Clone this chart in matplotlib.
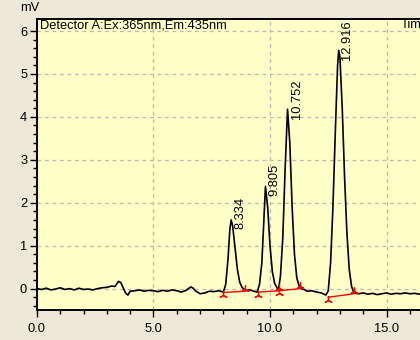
import matplotlib.pyplot as plt
import numpy as np

plt.rcParams['font.family'] = ['Liberation Sans', 'DejaVu Sans']

# chromatogram trace: time (min) and signal (mV)
time_min = [
    0.0, 0.2, 0.4, 0.6, 0.8, 1.0, 1.2, 1.4, 1.6, 1.8, 2.0, 2.2, 2.4, 2.6, 2.8,
    3.0, 3.2, 3.35, 3.5, 3.6, 3.7, 3.8, 3.9, 4.0, 4.2, 4.4, 4.6, 4.8, 5.0, 5.2,
    5.4, 5.6, 5.8, 6.0, 6.2, 6.4, 6.6, 6.7, 6.8, 7.0, 7.2, 7.4, 7.6, 7.8, 8.0,
    8.1, 8.2, 8.28, 8.334, 8.4, 8.5, 8.6, 8.7, 8.8, 8.9, 9.0, 9.1, 9.2, 9.3, 9.45,
    9.55, 9.65, 9.72, 9.805, 9.9, 10.0, 10.1, 10.2, 10.3, 10.36,
    10.45, 10.55, 10.65, 10.752, 10.85, 10.95, 11.05, 11.15, 11.25, 11.35,
    11.5, 11.6, 11.8, 12.0, 12.2, 12.4, 12.5, 12.6, 12.7, 12.8, 12.9, 12.95,
    13.0, 13.1, 13.2, 13.3, 13.4, 13.5, 13.6, 13.8, 14.0, 14.2, 14.4, 14.6,
    14.8, 15.0, 15.2, 15.4, 15.6, 15.8, 16.0, 16.2, 16.4, 16.6, 16.8, 17.0,
]
signal_mv = [
    0.0, -0.02, 0.01, -0.03, -0.01, 0.02, -0.02, 0.0, -0.03, 0.01, -0.02, -0.01,
    -0.03, 0.0, 0.02, 0.03, 0.06, 0.05, 0.17, 0.14, 0.02, -0.1, -0.15, -0.06,
    -0.05, -0.03, -0.06, -0.04, -0.05, -0.07, -0.04, -0.06, -0.03, -0.05, -0.08,
    -0.04, 0.04, 0.01, -0.05, -0.12, -0.1, -0.06, -0.07, -0.05, -0.08,
    0.1, 0.7, 1.4, 1.6, 1.45, 0.95, 0.45, 0.15, 0.03, -0.02, -0.05, -0.03, -0.04,
    -0.06, -0.08,
    0.1, 0.6, 1.4, 2.38, 1.9, 1.0, 0.4, 0.12, 0.02, -0.04,
    0.3, 1.2, 2.8, 4.18, 3.4, 1.9, 0.8, 0.25, 0.06, 0.0,
    -0.03, -0.06, -0.05, -0.08, -0.1, -0.15, -0.05, 0.6, 1.9, 3.6, 5.2, 5.55,
    5.4, 4.2, 2.6, 1.3, 0.45, 0.05, -0.1, -0.12, -0.1, -0.13, -0.11, -0.14,
    -0.12, -0.1, -0.13, -0.11, -0.12, -0.1, -0.12, -0.11, -0.13, -0.1, -0.12, -0.11,
]

# detected peaks
peak_rt = [8.334, 9.805, 10.752, 12.916]
peak_height = [1.6, 2.38, 4.18, 5.55]
peak_labels = ['8.334', '9.805', '10.752', '12.916']

# integration baselines: (start t, start mV, end t, end mV)
base_start_t = [8.0, 9.5, 10.38, 12.5]
base_start_v = [-0.09, -0.08, -0.05, -0.2]
base_end_t = [8.93, 10.38, 11.3, 13.6]
base_end_v = [-0.06, -0.05, 0.0, -0.12]

fs = 9.3

fig = plt.figure(figsize=(4.2, 3.4), dpi=100, facecolor='#ECE9D8')
ax = fig.add_axes([0.088, 0.088, 0.971, 0.856])
ax.set_facecolor('#FFFFC8')

ax.plot(time_min, signal_mv, color='black', lw=1.2, zorder=3)

for st, sv, et, ev in zip(base_start_t, base_start_v, base_end_t, base_end_v):
    ax.plot([st, et], [sv, ev], color='red', lw=1.0, zorder=4)
    ax.plot(st, sv - 0.06, marker=(3, 2, 0), color='red', ms=6, mew=0.9, zorder=5)
    ax.plot(et, ev + 0.06, marker=(3, 2, 0), color='red', ms=6, mew=0.9, zorder=5)

for rt, h, lab in zip(peak_rt, peak_height, peak_labels):
    ax.text(rt + 0.4, h - 0.22, lab, rotation=90, ha='center', va='bottom',
            fontsize=fs, zorder=6)

ax.text(0.12, 6.27, 'Detector A:Ex:365nm,Em:435nm', fontsize=fs, va='top', ha='left')
ax.text(15.6, 6.27, 'Tim', fontsize=fs, va='top', ha='left')

ax.set_xlim(0, 17.5)
ax.set_ylim(-0.5, 6.28)
ax.set_xticks([0, 5, 10, 15])
ax.set_xticklabels(['0.0', '5.0', '10.0', '15.0'])
ax.set_xticks(np.arange(0, 17.5, 1.0), minor=True)
ax.set_yticks([0, 1, 2, 3, 4, 5, 6])
ax.set_yticks(np.arange(-0.4, 6.2, 0.2), minor=True)
ax.tick_params(axis='both', labelsize=fs, length=5, width=1, direction='out')
ax.tick_params(axis='both', which='minor', length=3, width=1)
ax.tick_params(axis='x', pad=4)
ax.tick_params(axis='y', pad=2)

ax.grid(True, which='major', color='#B8B8B8', ls=(0, (3, 3)), lw=0.9)
for s in ['left', 'bottom', 'top']:
    ax.spines[s].set_linewidth(1.4)

fig.text(30 / 420, 1 - 8 / 340, 'mV', fontsize=fs, ha='center', va='center')

fig.savefig('out.png', dpi=100, facecolor=fig.get_facecolor())
